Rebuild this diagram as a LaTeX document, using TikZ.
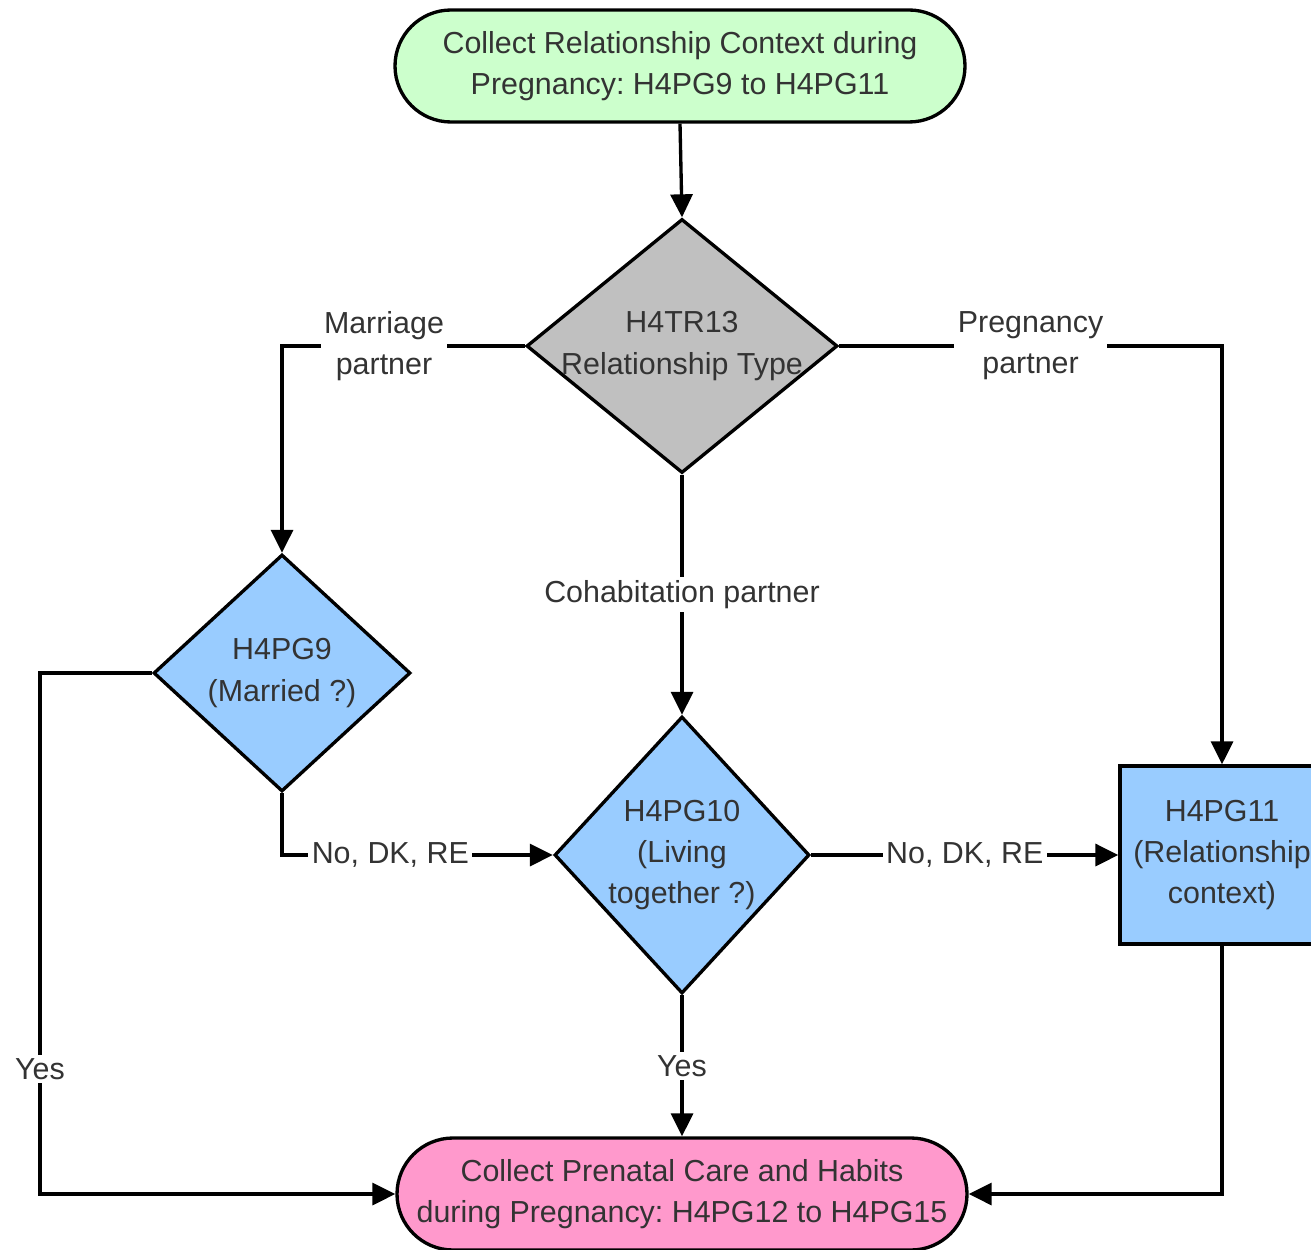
\documentclass[tikz,border=0pt]{standalone}
\usepackage{fontspec}
\setmainfont{Liberation Sans}
\usetikzlibrary{positioning,arrows.meta,shapes.geometric}
\usepackage{xcolor}
\definecolor{startgreen}{HTML}{CCFFCC}
\definecolor{endpink}{HTML}{FF99CC}
\definecolor{qblue}{HTML}{99CCFF}
\definecolor{qgray}{HTML}{C0C0C0}
\frenchspacing

\begin{document}
\begin{tikzpicture}[
  font=\fontsize{8.65}{11.7}\selectfont, text=black!80,
  term/.style={draw,line width=0.95pt,rounded corners=5.6mm,minimum width=5.7cm,minimum height=1.12cm,align=center},
  dec/.style={draw,line width=0.95pt,diamond,inner sep=0pt},
  proc/.style={draw,line width=0.95pt,inner sep=0pt,minimum width=2.04cm,minimum height=1.78cm,align=center},
  txt/.style={align=center},
  lab/.style={fill=white,inner sep=1pt,align=center},
  flow/.style={-{Triangle[length=2.3mm,width=2.2mm]},line width=0.95pt},
]
\useasboundingbox (0,0) rectangle (13.11,12.49);
% ---------- start / end ----------
\node[term,fill=startgreen] (start) at (6.80,11.83)
  {Collect Relationship Context during\\Pregnancy: H4PG9 to H4PG11};
\node[term,fill=endpink] (stop) at (6.82,0.55)
  {Collect Prenatal Care and Habits\\during Pregnancy: H4PG12 to H4PG15};
% ---------- questions ----------
\node[dec,fill=qgray,minimum width=3.11cm,minimum height=2.54cm] (rtype) at (6.82,9.03) {};
\node[txt] (rtypet) at (rtype) {H4TR13\\Relationship Type};
\node[dec,fill=qblue,minimum width=2.57cm,minimum height=2.37cm] (pg9) at (2.82,5.76) {};
\node[txt] (pg9t) at (pg9) {H4PG9\\(Married ?)};
\node[dec,fill=qblue,minimum width=2.55cm,minimum height=2.77cm] (pg10) at (6.82,3.94) {};
\node[txt] (pg10t) at (pg10) {H4PG10\\(Living\\together ?)};
\node[proc,fill=qblue] (pg11) at (12.22,3.94) {H4PG11\\(Relationship\\context)};
\coordinate (yesleft) at (0.40,5.76);
% ---------- flow ----------
\draw[flow] (start.south) -- (rtype.north);
\draw[flow] (rtype.west) -| node[lab,pos=0.29] {Marriage\\partner} (pg9.north);
\draw[flow] (rtype.east) -| node[lab,pos=0.25] {Pregnancy\\partner} (pg11.north);
\draw[flow] (rtype.south) -- node[lab] {Cohabitation partner} (pg10.north);
\draw[flow] (pg9.south) |- node[lab,pos=0.7] {No, DK, RE} (pg10.west);
\draw[flow] (pg9.west) -- (yesleft) |- node[lab,pos=0.38] {Yes} (stop.west);
\draw[flow] (pg10.east) -- node[lab] {No, DK, RE} (pg11.west);
\draw[flow] (pg10.south) -- node[lab] {Yes} (stop.north);
\draw[flow] (pg11.south) |- (stop.east);
\end{tikzpicture}
\end{document}
